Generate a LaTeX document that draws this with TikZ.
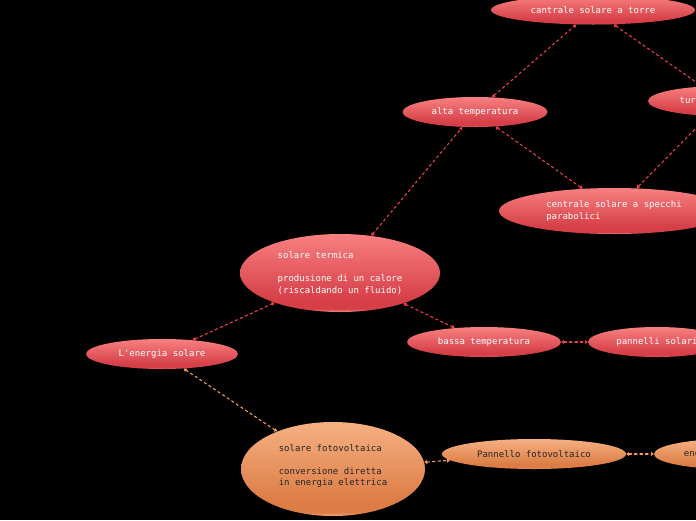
\documentclass[tikz,border=0pt]{standalone}
\usepackage{fontspec}
\setmonofont{DejaVu Sans Mono}
\usepackage{xcolor}
\usetikzlibrary{arrows.meta,shapes.geometric}

\definecolor{rossoalto}{HTML}{F88080}
\definecolor{rossobasso}{HTML}{D63F48}
\definecolor{rossobordo}{HTML}{F39090}
\definecolor{aranciaalto}{HTML}{F6B083}
\definecolor{aranciabasso}{HTML}{DC7D45}
\definecolor{aranciabordo}{HTML}{F3A475}
\definecolor{linkrosso}{HTML}{EC3F48}
\definecolor{linkarancio}{HTML}{F39A5E}
\definecolor{testoscuro}{HTML}{262626}

\pgfdeclareverticalshading{ombrarossa}{100bp}{color(0bp)=(rossobordo); color(25bp)=(rossobordo); color(27bp)=(rossobasso); color(33bp)=(rossobasso); color(75bp)=(rossoalto); color(100bp)=(rossoalto)}
\pgfdeclareverticalshading{ombraarancio}{100bp}{color(0bp)=(aranciabordo); color(25bp)=(aranciabordo); color(27bp)=(aranciabasso); color(33bp)=(aranciabasso); color(75bp)=(aranciaalto); color(100bp)=(aranciaalto)}

\begin{document}
\begin{tikzpicture}[x=1pt, y=-1pt, line cap=round, line join=round,
  bolla/.style={ellipse, inner sep=0pt, align=left, font=\ttfamily\fontsize{9}{11.5}\selectfont},
  rossa/.style={bolla, shade, shading=ombrarossa, text=white},
  arancio/.style={bolla, shade, shading=ombraarancio, text=testoscuro},
  legame/.style={draw=linkrosso, line width=1.1pt, dash pattern=on 2.5pt off 3pt,
    {Triangle[length=3pt,width=4pt]}-{Triangle[length=3pt,width=4pt]}},
  legamearancio/.style={legame, draw=linkarancio}]

% Sfondo
\fill[black] (0,0) rectangle (696,520);
\useasboundingbox (0,0) rectangle (696,520);

% Solare termica
\node[rossa, minimum width=204pt, minimum height=29pt] (torre) at (593,10) {cantrale solare a torre};
\node[rossa, minimum width=150pt, minimum height=30pt] (turbina) at (723,101) {turbina a vapore};
\node[rossa, minimum width=145pt, minimum height=30pt] (alta) at (475,112) {alta temperatura};
\node[rossa, minimum width=230pt, minimum height=46pt] (specchi) at (614,211) {centrale solare a specchi\\parabolici};
\node[rossa, minimum width=200pt, minimum height=78pt] (termica) at (340,273) {solare termica\\[11.5pt]produsione di un calore\\(riscaldando un fluido)};
\node[rossa, minimum width=152pt, minimum height=30pt] (energia) at (162,354) {L'energia solare};
\node[rossa, minimum width=154pt, minimum height=30pt] (bassa) at (484,342) {bassa temperatura};
\node[rossa, minimum width=138pt, minimum height=30pt] (pannelli) at (657,342) {pannelli solari};

% Solare fotovoltaica
\node[arancio, minimum width=184pt, minimum height=94pt] (fotovoltaica) at (333,469) {solare fotovoltaica\\[11.5pt]conversione diretta\\in energia elettrica\\[-3.5pt]};
\node[arancio, minimum width=184pt, minimum height=30pt] (pannello) at (534,454) {Pannello fotovoltaico};
\node[arancio, minimum width=152pt, minimum height=30pt] (elettrica) at (730,454) {energia elettrica};

% Collegamenti
\draw[legame] (alta) -- (torre);
\draw[legame] (torre) -- (turbina);
\draw[legame] (termica) -- (alta);
\draw[legame] (alta) -- (specchi);
\draw[legame] (turbina) -- (specchi);
\draw[legame] (energia) -- (termica);
\draw[legame] (termica) -- (bassa);
\draw[legame] (bassa) -- (pannelli);
\draw[legamearancio] (energia) -- (fotovoltaica);
\draw[legamearancio] (fotovoltaica) -- (pannello);
\draw[legamearancio] (pannello) -- (elettrica);

\end{tikzpicture}
\end{document}
